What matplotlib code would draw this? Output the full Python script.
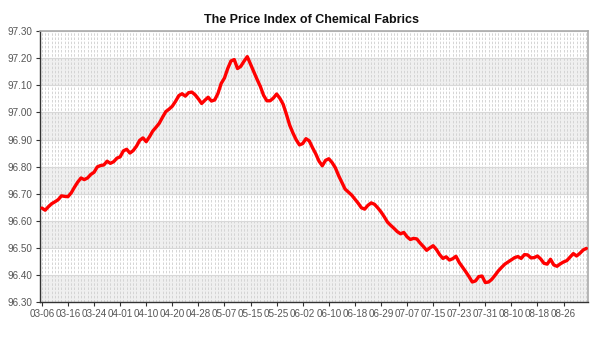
import numpy as np
import matplotlib
matplotlib.use('Agg')
import matplotlib.pyplot as plt
from matplotlib.ticker import MultipleLocator, FormatStrFormatter

plt.rcParams['font.family'] = ['Liberation Sans', 'DejaVu Sans']

# 价格指数（按交易日）
values = [
    96.647, 96.639, 96.652, 96.663, 96.670, 96.678, 96.692, 96.690, 96.689, 96.703,
    96.724, 96.743, 96.758, 96.752, 96.758, 96.771, 96.779, 96.799, 96.804, 96.806,
    96.820, 96.812, 96.818, 96.831, 96.836, 96.858, 96.864, 96.850, 96.859, 96.875,
    96.897, 96.906, 96.892, 96.910, 96.931, 96.945, 96.960, 96.982, 97.003, 97.012,
    97.023, 97.041, 97.062, 97.069, 97.060, 97.073, 97.075, 97.065, 97.050, 97.033,
    97.045, 97.056, 97.042, 97.046, 97.070, 97.107, 97.127, 97.162, 97.190, 97.195,
    97.162, 97.170, 97.189, 97.206, 97.178, 97.149, 97.122, 97.096, 97.063, 97.043,
    97.043, 97.053, 97.068, 97.052, 97.030, 96.993, 96.953, 96.924, 96.899, 96.880,
    96.885, 96.903, 96.895, 96.870, 96.847, 96.820, 96.803, 96.823, 96.829, 96.815,
    96.796, 96.767, 96.742, 96.717, 96.706, 96.695, 96.680, 96.665, 96.648, 96.643,
    96.657, 96.666, 96.661, 96.648, 96.633, 96.615, 96.595, 96.583, 96.572, 96.560,
    96.552, 96.557, 96.541, 96.531, 96.535, 96.533, 96.518, 96.505, 96.491, 96.500,
    96.508, 96.494, 96.475, 96.461, 96.467, 96.455, 96.460, 96.469, 96.446, 96.429,
    96.412, 96.394, 96.374, 96.378, 96.394, 96.396, 96.372, 96.374, 96.384, 96.399,
    96.415, 96.428, 96.440, 96.448, 96.456, 96.464, 96.468, 96.461, 96.475, 96.474,
    96.463, 96.464, 96.470, 96.459, 96.443, 96.440, 96.458, 96.437, 96.432, 96.441,
    96.448, 96.453, 96.466, 96.479, 96.470, 96.480, 96.492, 96.498,
]
tick_labels = ["03-06", "03-16", "03-24", "04-01", "04-10", "04-20", "04-28",
               "05-07", "05-15", "05-25", "06-02", "06-10", "06-18", "06-29",
               "07-07", "07-15", "07-23", "07-31", "08-10", "08-18", "08-26"]
tick_step = 8

fig = plt.figure(figsize=(6, 3.5), dpi=100)
ax = fig.add_axes([0.066, 0.137, 0.914, 0.774])

x = np.arange(len(values))
ax.set_xlim(-0.7, 167.5)
ax.set_ylim(96.30, 97.30)

# 背景条纹
for k in range(10):
    lo = 96.30 + k * 0.1
    if k % 2 == 0:
        ax.axhspan(lo, lo + 0.1, color="#efefef", zorder=0, lw=0)

# 网格
ax.xaxis.set_minor_locator(MultipleLocator(1))
ax.grid(which="both", axis="x", color="#cfcfcf", linestyle=(0, (3, 2)), linewidth=0.6, zorder=1)
ax.grid(which="major", axis="y", color="#d8d8d8", linestyle="-", linewidth=0.8, zorder=1)
ax.set_axisbelow(True)

ax.plot(x, values, color="#ff0000", linewidth=2.4, solid_capstyle="round",
        solid_joinstyle="round", zorder=3)

ax.set_xticks(np.arange(0, len(tick_labels) * tick_step, tick_step))
ax.set_xticklabels(tick_labels)
ax.yaxis.set_major_locator(MultipleLocator(0.1))
ax.yaxis.set_major_formatter(FormatStrFormatter("%.2f"))
ax.tick_params(axis="both", which="major", labelsize=7.1, colors="#333333",
               labelcolor="#555555", length=3, width=0.8, direction="out", pad=2)
ax.tick_params(axis="x", which="minor", length=0)

for side in ("left", "bottom"):
    ax.spines[side].set_color("#333333")
    ax.spines[side].set_linewidth(1.0)
for side in ("top", "right"):
    ax.spines[side].set_color("#aaaaaa")
    ax.spines[side].set_linewidth(1.2)

fig.text(0.52, 0.944, "The Price Index of Chemical Fabrics", ha="center", va="center",
         fontsize=9, fontweight="bold", color="#111111")

fig.savefig("out.png", dpi=100)
plt.close(fig)
